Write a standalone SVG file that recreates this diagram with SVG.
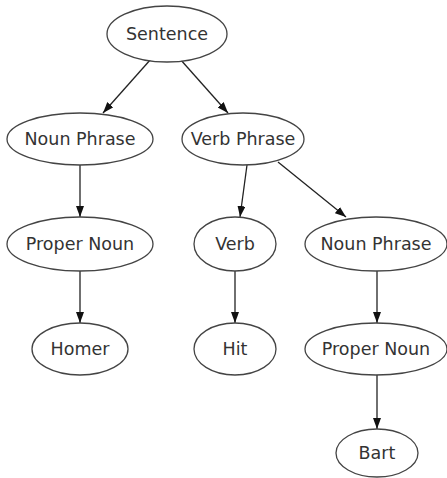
<svg xmlns="http://www.w3.org/2000/svg" width="447" height="478" viewBox="0 0 447 478">
<style>
.n ellipse{fill:#fff;stroke:#444;stroke-width:1.3}
.n text{font-family:"DejaVu Sans","Liberation Sans",sans-serif;font-size:17.5px;fill:#333;text-anchor:middle}
.e line{stroke:#222;stroke-width:1.3}
</style>
<defs>
<marker id="ah" markerUnits="userSpaceOnUse" markerWidth="12" markerHeight="9" refX="11" refY="4" orient="auto">
<path d="M0,0 L11,4 L0,8 z" fill="#111"/>
</marker>
</defs>
<rect width="447" height="478" fill="#fff"/>
<g class="e">
<line x1="151" y1="59" x2="103" y2="113" marker-end="url(#ah)"/>
<line x1="180" y1="59" x2="228" y2="113" marker-end="url(#ah)"/>
<line x1="80" y1="165" x2="80" y2="217" marker-end="url(#ah)"/>
<line x1="247" y1="165" x2="240" y2="217" marker-end="url(#ah)"/>
<line x1="278" y1="162" x2="346" y2="217" marker-end="url(#ah)"/>
<line x1="80" y1="271" x2="80" y2="323" marker-end="url(#ah)"/>
<line x1="235" y1="271" x2="235" y2="323" marker-end="url(#ah)"/>
<line x1="377" y1="271" x2="377" y2="323" marker-end="url(#ah)"/>
<line x1="377" y1="375" x2="377" y2="429" marker-end="url(#ah)"/>
</g>
<g id="sentence" class="n"><ellipse cx="167" cy="34" rx="60" ry="28"/><text x="167" y="40">Sentence</text></g>
<g id="np1" class="n"><ellipse cx="80" cy="139" rx="73" ry="26"/><text x="80" y="145">Noun Phrase</text></g>
<g id="vp" class="n"><ellipse cx="243" cy="139" rx="61" ry="26"/><text x="243" y="145">Verb Phrase</text></g>
<g id="pn1" class="n"><ellipse cx="80" cy="244" rx="73" ry="27"/><text x="80" y="250">Proper Noun</text></g>
<g id="verb" class="n"><ellipse cx="235" cy="244" rx="41" ry="27"/><text x="235" y="250">Verb</text></g>
<g id="np2" class="n"><ellipse cx="376" cy="244" rx="71" ry="27"/><text x="376" y="250">Noun Phrase</text></g>
<g id="homer" class="n"><ellipse cx="80" cy="349" rx="48" ry="26"/><text x="80" y="355">Homer</text></g>
<g id="hit" class="n"><ellipse cx="235" cy="349" rx="41" ry="26"/><text x="235" y="355">Hit</text></g>
<g id="pn2" class="n"><ellipse cx="376" cy="349" rx="71" ry="26"/><text x="376" y="355">Proper Noun</text></g>
<g id="bart" class="n"><ellipse cx="377" cy="453" rx="41" ry="24"/><text x="377" y="459">Bart</text></g>
</svg>
